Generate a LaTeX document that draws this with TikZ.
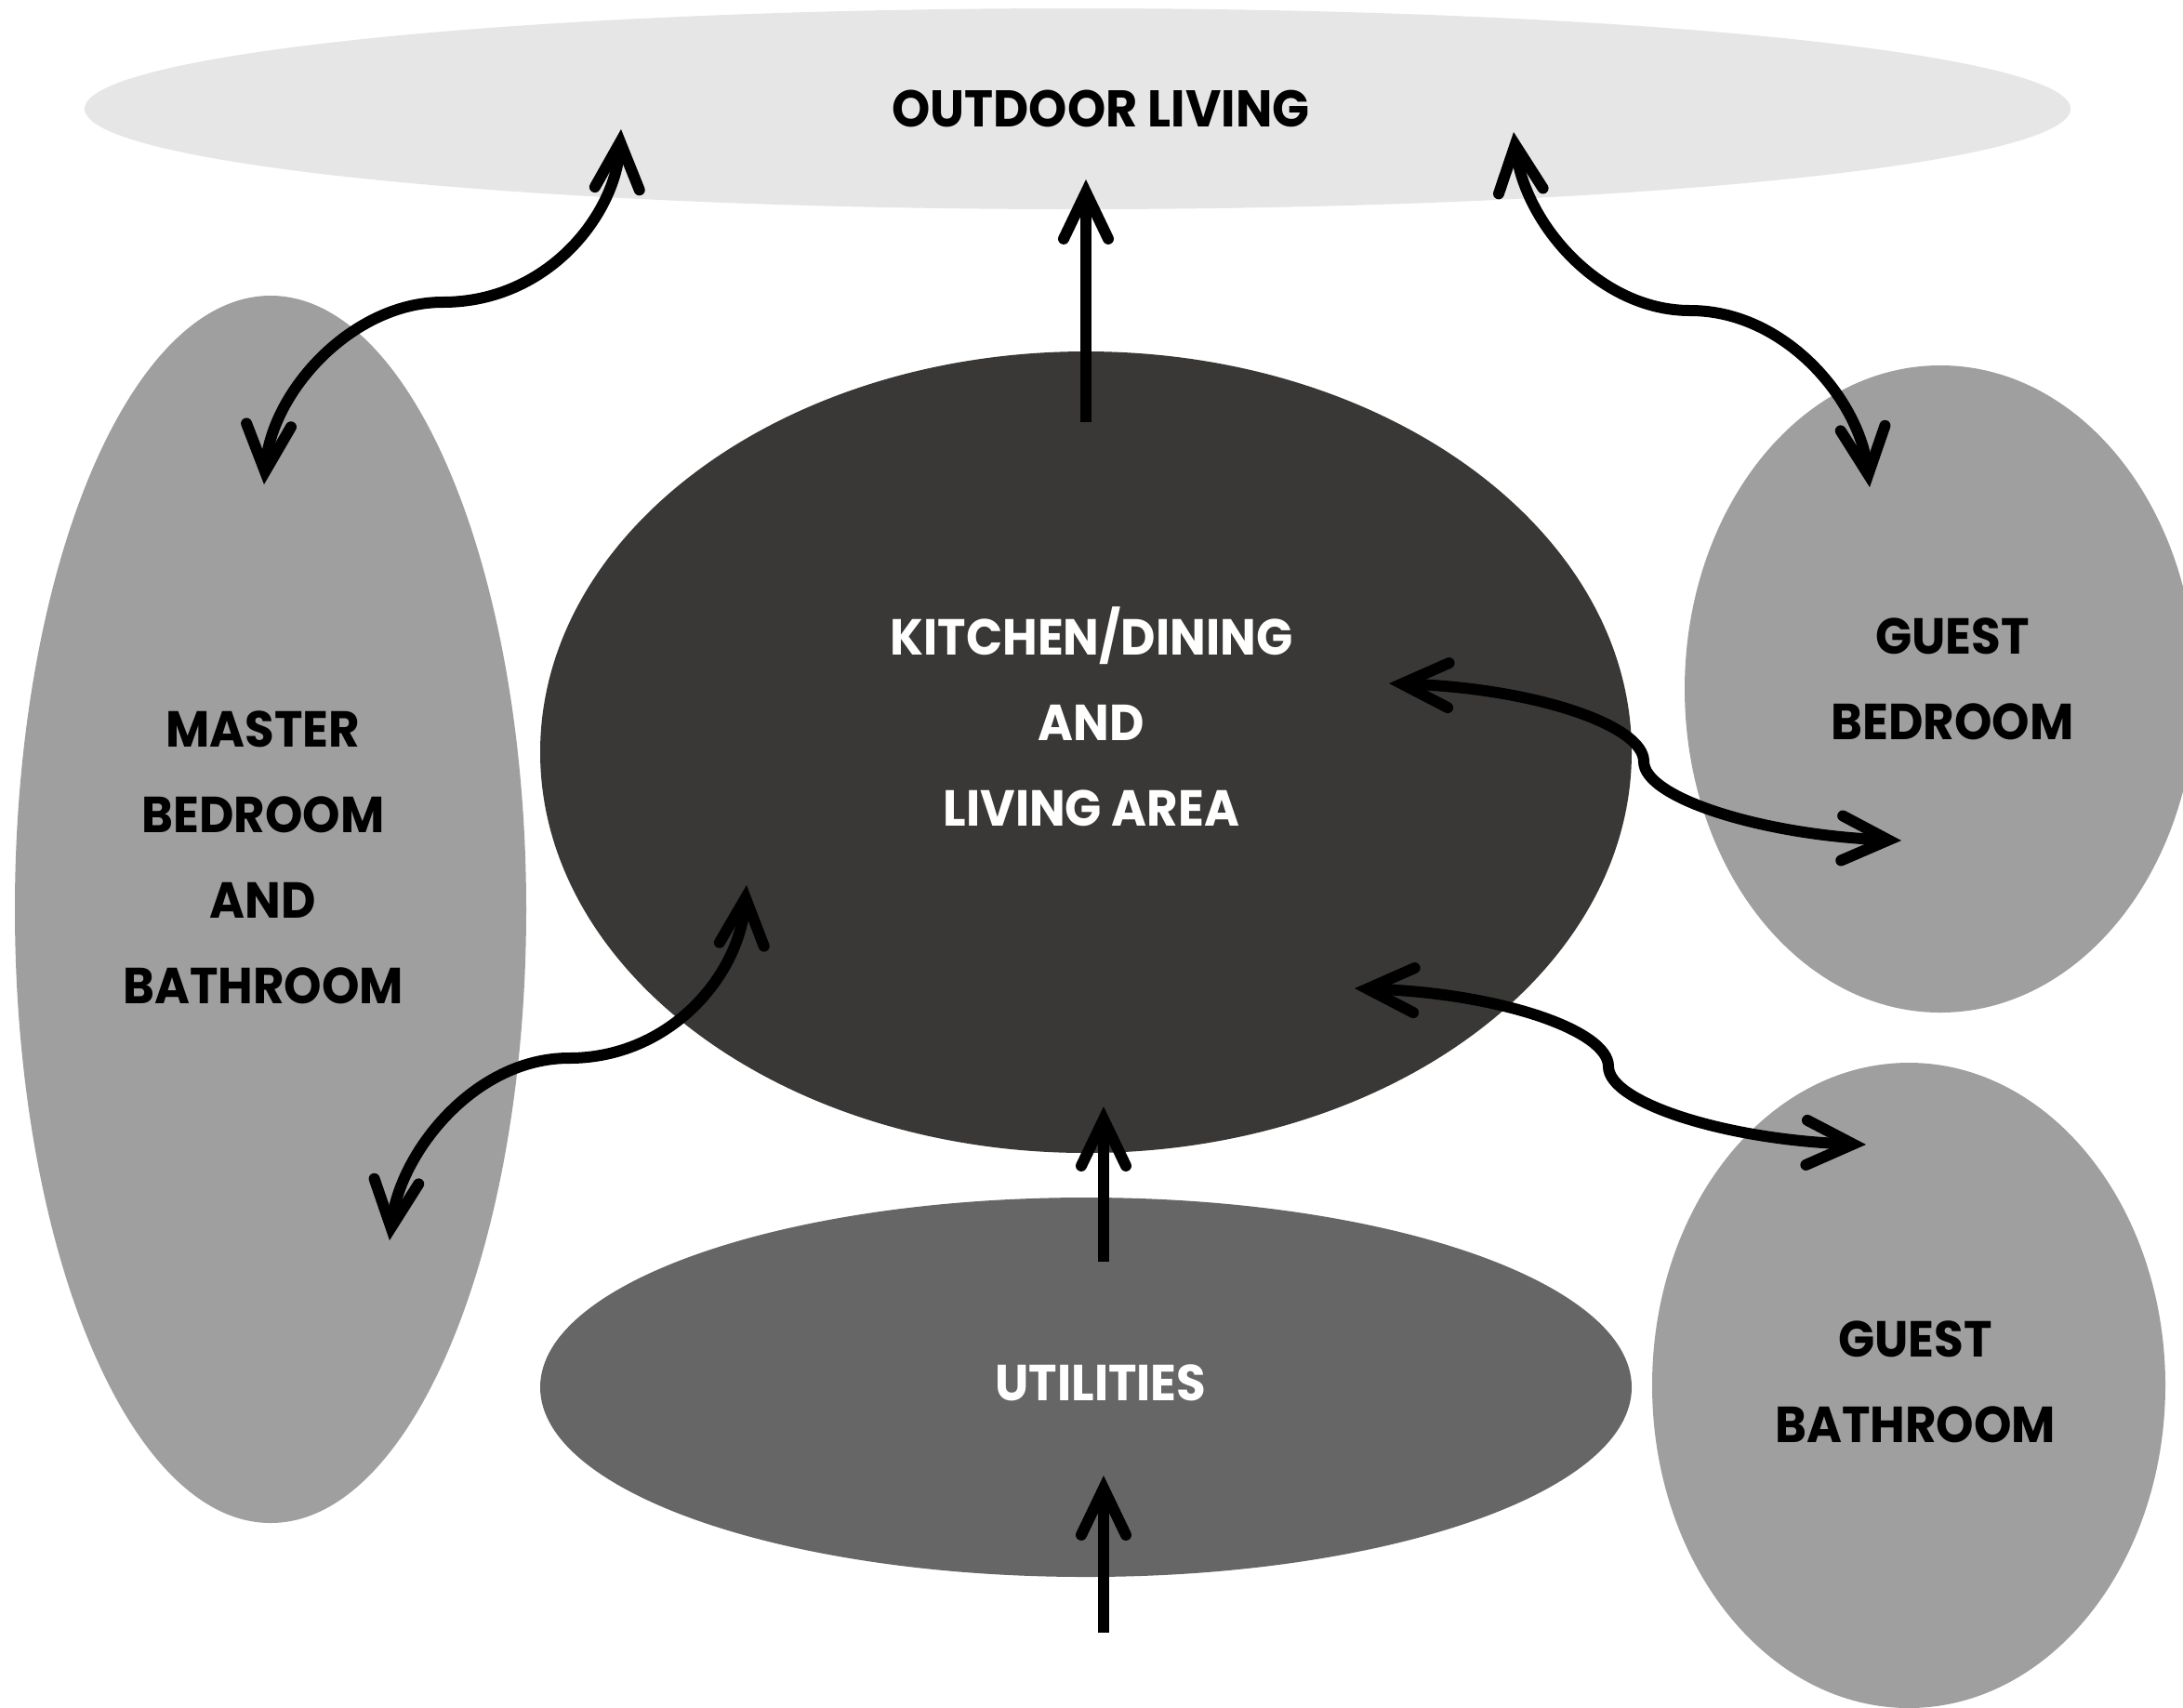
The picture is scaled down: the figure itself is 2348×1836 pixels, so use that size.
\documentclass[tikz,border=0pt]{standalone}
\usepackage{fontspec}
\setmainfont{Poppins}[FakeStretch=0.945]
\usetikzlibrary{shapes.geometric,arrows.meta}
\definecolor{outdoorc}{HTML}{E6E6E6}
\definecolor{kitchenc}{HTML}{393836}
\definecolor{roomc}{HTML}{9F9F9F}
\definecolor{utilc}{HTML}{666666}
\tikzset{
  room/.style={ellipse, draw=none, inner sep=0pt},
  lbl/.style={align=center, font=\bfseries\fontsize{15.5}{26.2}\selectfont},
  barb/.tip={Straight Barb[length=5mm,width=4.8mm,line cap=round,line join=miter]},
  link/.style={line width=1.2mm, line cap=butt},
}
\begin{document}
\begin{tikzpicture}[x=0.1mm,y=-0.1mm]
\clip (0,0) rectangle (2348,1836);
\fill[white] (0,0) rectangle (2348,1836);
% rooms
\node[room, fill=outdoorc, minimum width=213.6mm, minimum height=21.6mm] (outdoor) at (1159,117) {};
\node[room, fill=kitchenc, minimum width=117.4mm, minimum height=86.2mm] (kitchen) at (1168,809) {};
\node[room, fill=roomc, minimum width=55mm, minimum height=132mm] (master) at (291,978) {};
\node[room, fill=roomc, minimum width=55mm, minimum height=69.6mm] (guestbed) at (2087,741) {};
\node[room, fill=roomc, minimum width=55.2mm, minimum height=69.4mm] (guestbath) at (2053,1490) {};
\node[room, fill=utilc, minimum width=117.4mm, minimum height=40.8mm] (utilities) at (1168,1492) {};
% labels
\node[lbl, text=black, font=\bfseries\fontsize{15.8}{26.2}\selectfont] (toutdoor) at (1184,117) {OUTDOOR LIVING};
\node[lbl, text=white] (tkitchen) at (1174,771) {KITCHEN/DINING\\AND\\LIVING AREA};
\node[lbl, text=black] (tmaster) at (283,922) {MASTER\\BEDROOM\\AND\\BATHROOM};
\node[lbl, text=black] (tguestbed) at (2100,730) {GUEST\\BEDROOM};
\node[lbl, text=black] (tguestbath) at (2060,1486) {GUEST\\BATHROOM};
\node[lbl, text=white] (tutil) at (1184,1487) {UTILITIES};
% connector end points
\coordinate (kTop) at (1168,454);
\coordinate (oMid) at (1168,193);
\coordinate (kBotTail) at (1187,1357);
\coordinate (kBot) at (1187,1190);
\coordinate (uTail) at (1187,1756);
\coordinate (uIn) at (1187,1587);
\coordinate (mTop) at (284,521);
\coordinate (oLeft) at (668,139);
\coordinate (oRight) at (1628,142);
\coordinate (gbTop) at (2011,524);
\coordinate (mLow) at (419,1334);
\coordinate (kLeft) at (803,952);
\coordinate (kRight1) at (1494,735);
\coordinate (gbIn) at (2045,904);
\coordinate (kRight2) at (1457,1063);
\coordinate (gbaIn) at (2007,1231);
% straight connectors
\draw[link, -barb] (kTop) -- (oMid);
\draw[link, -barb] (kBotTail) -- (kBot);
\draw[link, -barb] (uTail) -- (uIn);
% curved connectors
\draw[link, barb-barb] (mTop) .. controls (292,420) and (380,325) .. (476,325)
  .. controls (590,325) and (662,230) .. (oLeft);
\draw[link, barb-barb] (oRight) .. controls (1640,240) and (1720,334) .. (1818,334)
  .. controls (1920,334) and (2000,430) .. (gbTop);
\draw[link, barb-barb] (mLow) .. controls (430,1240) and (510,1138) .. (612,1138)
  .. controls (720,1138) and (795,1050) .. (kLeft);
\draw[link, barb-barb] (kRight1) .. controls (1650,740) and (1768,780) .. (1768,819)
  .. controls (1768,858) and (1895,898) .. (gbIn);
\draw[link, barb-barb] (kRight2) .. controls (1612,1068) and (1730,1108) .. (1730,1147)
  .. controls (1730,1186) and (1857,1226) .. (gbaIn);
\end{tikzpicture}
\end{document}
